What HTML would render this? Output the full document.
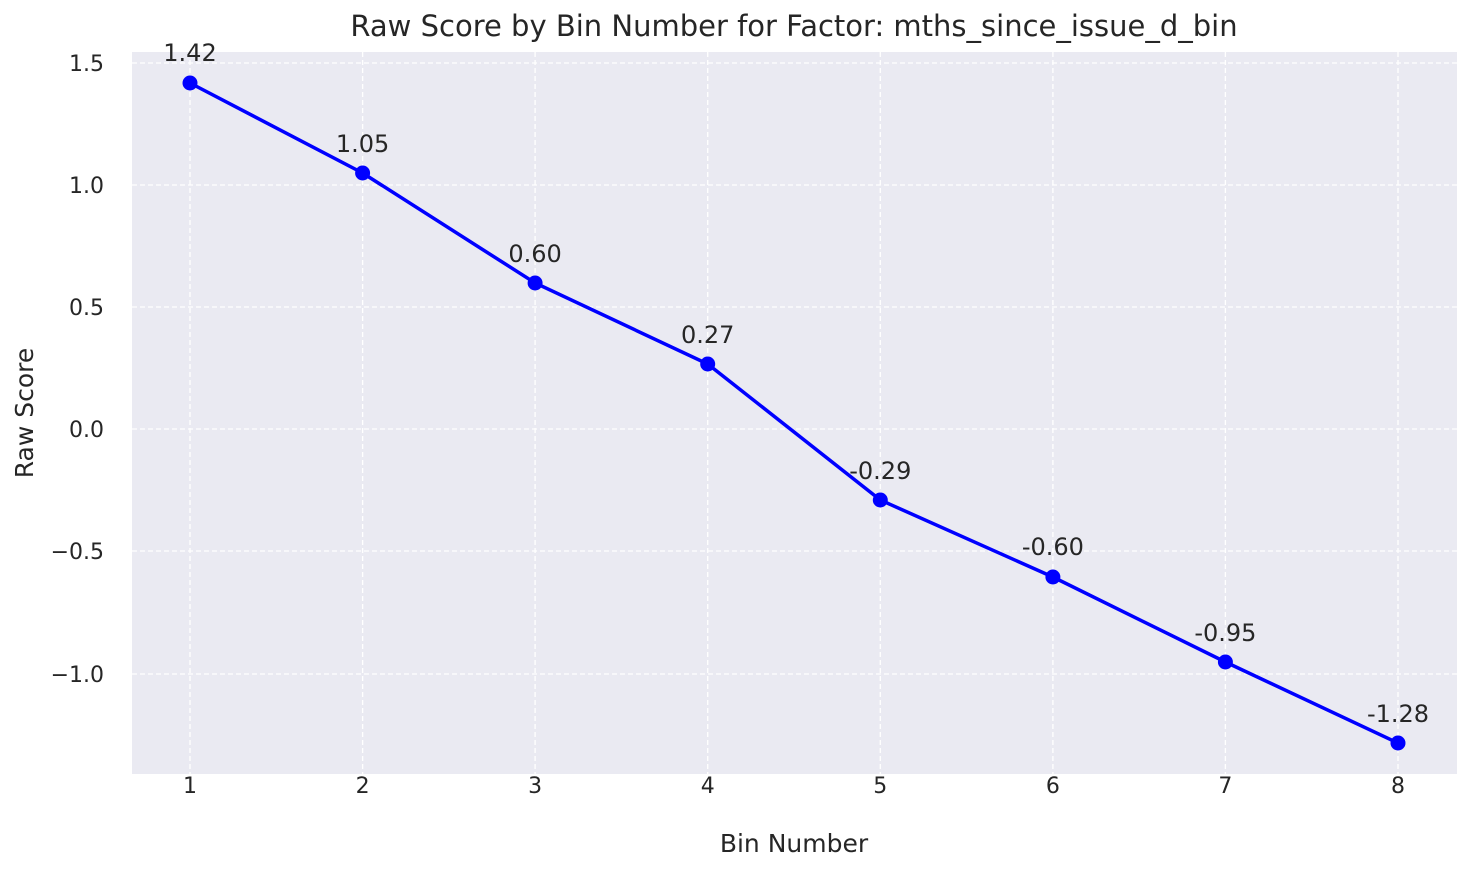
<!DOCTYPE html>
<html><head><meta charset="utf-8"><style>
body{margin:0;background:#fff;}
svg{display:block;font-family:"DejaVu Sans","Liberation Sans",sans-serif;}
</style></head><body>
<svg width="1473" height="873" xmlns="http://www.w3.org/2000/svg">
<rect x="0" y="0" width="1473" height="873" fill="#fff"/>
<rect x="132" y="52" width="1325" height="722" fill="#eaeaf2"/>
<g stroke="#fff" stroke-width="1.3" stroke-dasharray="5,3">
<line x1="190" y1="52" x2="190" y2="774"/><line x1="362.6" y1="52" x2="362.6" y2="774"/>
<line x1="535.1" y1="52" x2="535.1" y2="774"/><line x1="707.7" y1="52" x2="707.7" y2="774"/>
<line x1="880.3" y1="52" x2="880.3" y2="774"/><line x1="1052.9" y1="52" x2="1052.9" y2="774"/>
<line x1="1225.4" y1="52" x2="1225.4" y2="774"/><line x1="1398" y1="52" x2="1398" y2="774"/>
<line x1="132" y1="63" x2="1457" y2="63"/><line x1="132" y1="185" x2="1457" y2="185"/>
<line x1="132" y1="307" x2="1457" y2="307"/><line x1="132" y1="429" x2="1457" y2="429"/>
<line x1="132" y1="551" x2="1457" y2="551"/><line x1="132" y1="674" x2="1457" y2="674"/>
</g>
<polyline fill="none" stroke="#0000ff" stroke-width="3.5" points="190,83 362.6,173 535.1,283 707.7,364 880.3,500 1052.9,577 1225.4,662 1398,743"/>
<g fill="#0000ff">
<circle cx="190" cy="83" r="7.5"/><circle cx="362.6" cy="173" r="7.5"/><circle cx="535.1" cy="283" r="7.5"/>
<circle cx="707.7" cy="364" r="7.5"/><circle cx="880.3" cy="500" r="7.5"/><circle cx="1052.9" cy="577" r="7.5"/>
<circle cx="1225.4" cy="662" r="7.5"/><circle cx="1398" cy="743" r="7.5"/>
</g>
<g fill="#262626" font-size="24" text-anchor="middle">
<text x="190" y="61">1.42</text><text x="362.6" y="152">1.05</text><text x="535.1" y="262">0.60</text>
<text x="707.7" y="343">0.27</text><text x="880.3" y="479">-0.29</text><text x="1052.9" y="555">-0.60</text>
<text x="1225.4" y="641">-0.95</text><text x="1398" y="722">-1.28</text>
</g>
<g fill="#262626" font-size="22" text-anchor="middle">
<text x="190" y="793">1</text><text x="362.6" y="793">2</text><text x="535.1" y="793">3</text>
<text x="707.7" y="793">4</text><text x="880.3" y="793">5</text><text x="1052.9" y="793">6</text>
<text x="1225.4" y="793">7</text><text x="1398" y="793">8</text>
</g>
<g fill="#262626" font-size="22" text-anchor="end">
<text x="104" y="71">1.5</text><text x="104" y="193">1.0</text><text x="104" y="315">0.5</text>
<text x="104" y="437">0.0</text><text x="104" y="559">−0.5</text><text x="104" y="682">−1.0</text>
</g>
<text x="794" y="852" font-size="25" fill="#262626" text-anchor="middle">Bin Number</text>
<text x="33" y="413" font-size="25" fill="#262626" text-anchor="middle" transform="rotate(-90 33 413)">Raw Score</text>
<text x="794" y="36" font-size="29" fill="#262626" text-anchor="middle">Raw Score by Bin Number for Factor: mths_since_issue_d_bin</text>
</svg>
</body></html>
